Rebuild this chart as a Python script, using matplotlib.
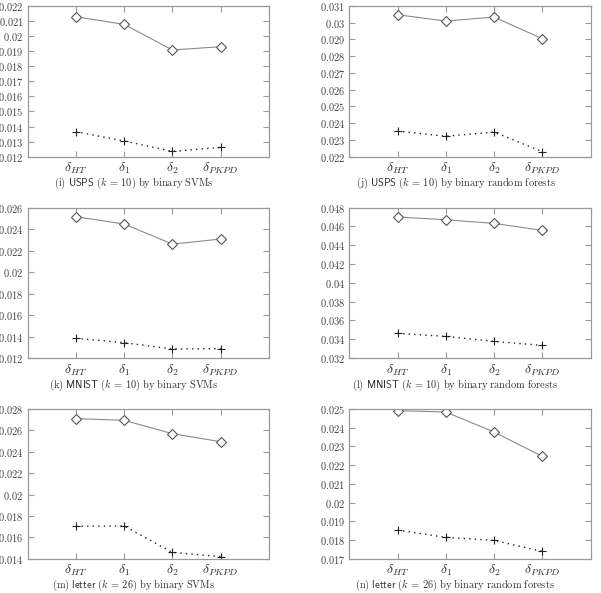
import matplotlib
matplotlib.use("Agg")
import matplotlib.pyplot as plt

plt.rcParams['mathtext.fontset'] = 'cm'
plt.rcParams['font.family'] = 'DejaVu Serif'

methods = [r'$\delta_{HT}$', r'$\delta_1$', r'$\delta_2$', r'$\delta_{PKPD}$']

# panel data
cap_i = r'$\mathrm{(i)}\ \mathsf{USPS}\ (k\,=\,10)\ \mathrm{by\ binary\ SVMs}$'
diam_i = [0.02129, 0.02078, 0.01908, 0.01930]
plus_i = [0.01366, 0.01304, 0.01235, 0.01262]
yt_i = [0.012, 0.013, 0.014, 0.015, 0.016, 0.017, 0.018, 0.019, 0.020, 0.021, 0.022]

cap_j = r'$\mathrm{(j)}\ \mathsf{USPS}\ (k\,=\,10)\ \mathrm{by\ binary\ random\ forests}$'
diam_j = [0.03048, 0.03010, 0.03034, 0.02905]
plus_j = [0.02353, 0.02322, 0.02347, 0.02230]
yt_j = [0.022, 0.023, 0.024, 0.025, 0.026, 0.027, 0.028, 0.029, 0.030, 0.031]

cap_k = r'$\mathrm{(k)}\ \mathsf{MNIST}\ (k\,=\,10)\ \mathrm{by\ binary\ SVMs}$'
diam_k = [0.02516, 0.02448, 0.02261, 0.02308]
plus_k = [0.01383, 0.01343, 0.01284, 0.01287]
yt_k = [0.012, 0.014, 0.016, 0.018, 0.020, 0.022, 0.024, 0.026]

cap_l = r'$\mathrm{(l)}\ \mathsf{MNIST}\ (k\,=\,10)\ \mathrm{by\ binary\ random\ forests}$'
diam_l = [0.04701, 0.04672, 0.04633, 0.04559]
plus_l = [0.03462, 0.03430, 0.03377, 0.03334]
yt_l = [0.032, 0.034, 0.036, 0.038, 0.040, 0.042, 0.044, 0.046, 0.048]

cap_m = r'$\mathrm{(m)}\ \mathsf{letter}\ (k\,=\,26)\ \mathrm{by\ binary\ SVMs}$'
diam_m = [0.02710, 0.02694, 0.02569, 0.02494]
plus_m = [0.01703, 0.01706, 0.01459, 0.01419]
yt_m = [0.014, 0.016, 0.018, 0.020, 0.022, 0.024, 0.026, 0.028]

cap_n = r'$\mathrm{(n)}\ \mathsf{letter}\ (k\,=\,26)\ \mathrm{by\ binary\ random\ forests}$'
diam_n = [0.02491, 0.02484, 0.02377, 0.02247]
plus_n = [0.01853, 0.01814, 0.01798, 0.01739]
yt_n = [0.017, 0.018, 0.019, 0.020, 0.021, 0.022, 0.023, 0.024, 0.025]

panels = [
    (cap_i, yt_i, diam_i, plus_i),
    (cap_j, yt_j, diam_j, plus_j),
    (cap_k, yt_k, diam_k, plus_k),
    (cap_l, yt_l, diam_l, plus_l),
    (cap_m, yt_m, diam_m, plus_m),
    (cap_n, yt_n, diam_n, plus_n),
]

def fmt(v):
    s = ('%.3f' % v).rstrip('0').rstrip('.')
    return '$' + s + '$'

W, H = 601, 593
fig = plt.figure(figsize=(W / 100, H / 100), dpi=100)

lefts = [27.7, 349.3]
width = 241.2
rows = [(6.0, 156.7), (207.7, 358.0), (409.0, 558.7)]

frame_col = '#9a9a9a'
for idx, (cap, yt, dia, plu) in enumerate(panels):
    r, c = divmod(idx, 2)
    top, bot = rows[r]
    ax = fig.add_axes([lefts[c] / W, 1 - bot / H, width / W, (bot - top) / H])
    x = list(range(1, len(methods) + 1))
    ax.plot(x, dia, color='#8a8a8a', lw=0.8, marker='D', markersize=5,
            markerfacecolor='white', markeredgecolor='#555555', markeredgewidth=0.8)
    ax.plot(x, plu, color='#222222', lw=1.0, ls=(0, (1, 3)), marker='+', markersize=6,
            markeredgecolor='#222222', markeredgewidth=0.8)
    ax.set_xlim(0, 5)
    ax.set_ylim(yt[0], yt[-1])
    ax.set_xticks(x)
    ax.set_xticklabels(methods, fontsize=10, color='#333333')
    ax.set_yticks(yt)
    ax.set_yticklabels([fmt(v) for v in yt], fontsize=7.5, color='#444444')
    ax.tick_params(direction='in', length=4, width=0.8, color=frame_col,
                   top=True, right=True, pad=3)
    ax.tick_params(axis='x', pad=3)
    for s in ax.spines.values():
        s.set_color(frame_col)
        s.set_linewidth(0.9)
    ax.text(0.44, -0.18, cap, transform=ax.transAxes, ha='center', va='center',
            fontsize=7.5, color='#333333')

fig.savefig('out.png', dpi=100)
